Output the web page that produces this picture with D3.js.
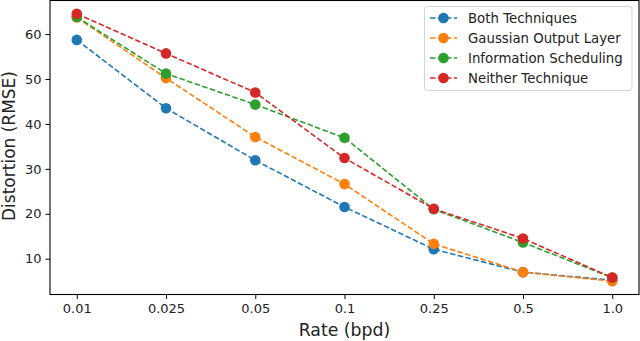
<!DOCTYPE html>
<html><head><meta charset="utf-8">
<script src="https://cdn.jsdelivr.net/npm/d3@7"></script>
<style>body{margin:0;background:#fff}svg{display:block}text{font-family:"DejaVu Sans",sans-serif}</style>
</head><body>
<svg id="c" width="640" height="341"></svg>
<script>
const rates = ["0.01","0.025","0.05","0.1","0.25","0.5","1.0"];
const seriesNames = ["Both Techniques","Gaussian Output Layer","Information Scheduling","Neither Technique"];
const bothTechniques = [58.7, 43.5, 31.9, 21.5, 12.1, 7.0, 5.2];
const gaussianOutput = [63.7, 50.2, 37.1, 26.6, 13.3, 7.0, 5.0];
const infoScheduling = [63.8, 51.2, 44.3, 36.9, 21.0, 13.6, 5.8];
const neitherTechnique = [64.5, 55.7, 47.0, 32.4, 21.1, 14.5, 5.8];
const yTicks = [10, 20, 30, 40, 50, 60];
const colors = ["#1f77b4","#ff7f0e","#2ca02c","#d62728"];

const allSeries = [bothTechniques, gaussianOutput, infoScheduling, neitherTechnique];
const svg = d3.select("#c");
const L = 50, R = 639, T = 0.5, B = 294.5;
const x = d3.scalePoint().domain(rates).range([L, R]).padding(0.3);
const yMin = d3.min(allSeries.flat()), yMax = d3.max(allSeries.flat());
const pad = (yMax - yMin) * 0.05;
const y = d3.scaleLinear().domain([yMin - pad, yMax + pad]).range([B, T]);

// axes
const xAxis = svg.append("g").attr("transform", `translate(0,${B})`)
  .call(d3.axisBottom(x).tickSize(4.5).tickPadding(5).tickSizeOuter(0));
const yAxis = svg.append("g").attr("transform", `translate(${L},0)`)
  .call(d3.axisLeft(y).tickValues(yTicks).tickFormat(d3.format("d")).tickSize(4.5).tickPadding(4).tickSizeOuter(0));
[xAxis, yAxis].forEach(g => {
  g.select(".domain").remove();
  g.selectAll("line").attr("stroke", "#000").attr("stroke-width", 1);
  g.selectAll("text").attr("font-size", 13).attr("fill", "#222");
});

// lines and markers
const line = d3.line().x((d, i) => x(rates[i])).y(d => y(d));
allSeries.forEach((s, k) => {
  svg.append("path").datum(s).attr("d", line).attr("fill", "none")
    .attr("stroke", colors[k]).attr("stroke-width", 1.6).attr("stroke-dasharray", "5.5,2.5");
  svg.append("g").selectAll("circle").data(s).join("circle")
    .attr("cx", (d, i) => x(rates[i])).attr("cy", d => y(d)).attr("r", 5.3)
    .attr("fill", colors[k]);
});

// frame
svg.append("rect").attr("x", L).attr("y", T).attr("width", R - L).attr("height", B - T)
  .attr("fill", "none").attr("stroke", "#000").attr("stroke-width", 1.1);

// axis labels
svg.append("text").attr("x", (L + R) / 2).attr("y", 336).attr("text-anchor", "middle")
  .attr("font-size", 17.3).attr("fill", "#222").text("Rate (bpd)");
svg.append("text").attr("transform", `translate(${15},${146}) rotate(-90)`)
  .attr("text-anchor", "middle").attr("font-size", 17).attr("fill", "#222").text("Distortion (RMSE)");

// legend
const lg = svg.append("g");
lg.append("rect").attr("x", 424.5).attr("y", 6.5).attr("width", 207.5).attr("height", 84)
  .attr("rx", 3).attr("fill", "#fff").attr("fill-opacity", 0.8).attr("stroke", "#d5d5d5");
seriesNames.forEach((n, k) => {
  const yy = 18 + k * 20;
  lg.append("line").attr("x1", 430).attr("x2", 457).attr("y1", yy).attr("y2", yy)
    .attr("stroke", colors[k]).attr("stroke-width", 1.6).attr("stroke-dasharray", "5.5,2.5");
  lg.append("circle").attr("cx", 443.5).attr("cy", yy).attr("r", 5.3).attr("fill", colors[k]);
  lg.append("text").attr("x", 468).attr("y", yy).attr("dy", "0.35em")
    .attr("font-size", 13.3).attr("fill", "#222").text(n);
});
</script>
</body></html>
